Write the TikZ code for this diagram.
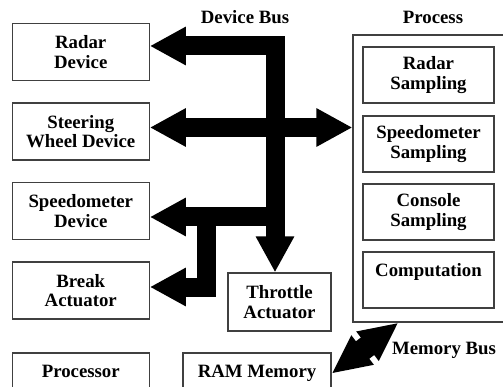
\documentclass[tikz,border=0pt]{standalone}
\usepackage{fontspec}
\setmainfont{Liberation Serif}
\usetikzlibrary{arrows.meta, positioning}

\begin{document}
\begin{tikzpicture} [x=1pt, y=-1pt, node distance = 79.5pt, on grid,
  font=\fontsize{18.8}{19.5}\selectfont\bfseries,
  box/.style={rectangle, draw=black!75, line width=1.2pt, align=center, inner sep=0pt, minimum width=137pt, minimum height=57pt},
  sbox/.style={box, minimum width=131pt, minimum height=56pt},
  bus/.style={line width=19pt, arrows={Triangle[length=36pt,width=36pt]-Triangle[length=36pt,width=36pt]}},
  busend/.style={line width=19pt, arrows={-Triangle[length=36pt,width=36pt]}},
  membus/.style={line width=22pt, arrows={Triangle[length=39pt,width=34pt]-Triangle[length=39pt,width=34pt]}}]
\useasboundingbox (0,0) rectangle (503,387);
% devices
\node (0) [box] at (80.75,52) {Radar\\Device};
\node (1) [box, below = of 0] {Steering\\Wheel Device};
\node (2) [box, below = of 1] {Speedometer\\Device};
\node (3) [box, below = of 2] {Break\\Actuator};
\node (4) [box, below = 91pt of 3] {Processor\\\mbox{}};
\node (5) [box, minimum width=103pt, minimum height=58pt] at (279.5,302) {Throttle\\Actuator};
\node (6) [box, minimum width=148pt] at (257,381.5) {RAM Memory\\\mbox{}};
% process
\node (7) [box, minimum width=153pt, minimum height=287pt] at (429.5,178.5) {};
\node (8) [sbox] at (428.5,75) {Radar\\Sampling};
\node (9) [sbox, below = 69pt of 8] {Speedometer\\Sampling};
\node (10) [sbox, below = 68pt of 9] {Console\\Sampling};
\node (11) [sbox, below = 68pt of 10] {Computation\\\mbox{}};
% titles
\node (12) at (245,17) {Device Bus};
\node (13) at (433,17) {Process};
\node (14) at (444,350) {Memory Bus};

\coordinate (c) at (275,46);
\coordinate (b) at (206,217);
\draw [bus] (0.east |- c) -- (c) -- (c |- 5.north);
\draw [bus] ([yshift=4pt]1.east) -- ([yshift=4pt]1.east -| 7.west);
\draw [busend] (c |- b) -- (2.east |- b);
\draw [busend] (b) |- ([yshift=3.5pt]3.east);
\draw [membus] (6.6) -- ([xshift=-31pt]7.south);
\end{tikzpicture}
\end{document}
